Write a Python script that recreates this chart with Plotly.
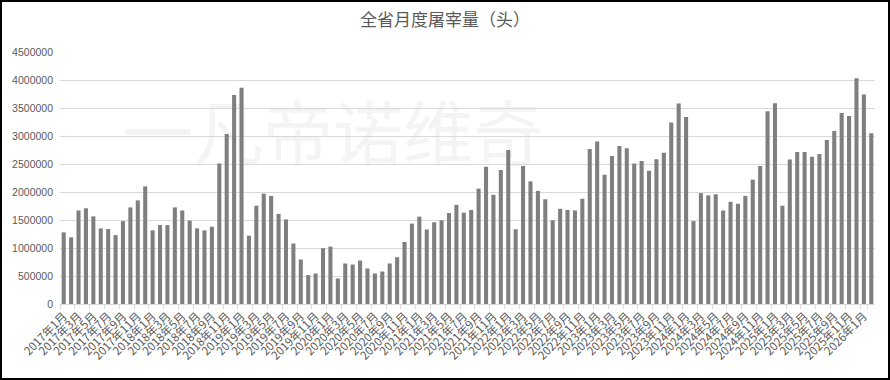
import plotly.graph_objects as go

months = [f"{y}年{m}月" for y in range(2017, 2027) for m in range(1, 13)][:110]

values = [
    1280000, 1190000, 1670000, 1710000, 1565000, 1350000, 1340000, 1230000, 1480000, 1725000, 1850000, 2100000,
    1315000, 1410000, 1410000, 1725000, 1670000, 1490000, 1350000, 1315000, 1380000, 2510000, 3035000, 3730000,
    3860000, 1220000, 1755000, 1970000, 1930000, 1610000, 1510000, 1080000, 795000, 516000, 545000, 996000,
    1025000, 456000, 723000, 705000, 776000, 634000, 545000, 580000, 723000, 836000, 1108000, 1435000,
    1560000, 1330000, 1460000, 1495000, 1625000, 1770000, 1630000, 1680000, 2060000, 2450000, 1950000, 2395000,
    2750000, 1335000, 2465000, 2190000, 2020000, 1870000, 1495000, 1700000, 1680000, 1670000, 1880000, 2770000,
    2900000, 2310000, 2645000, 2820000, 2780000, 2510000, 2555000, 2380000, 2585000, 2700000, 3240000, 3580000,
    3340000, 1480000, 1980000, 1940000, 1960000, 1670000, 1825000, 1790000, 1930000, 2220000, 2465000, 3440000,
    3585000, 1755000, 2580000, 2715000, 2715000, 2630000, 2680000, 2930000, 3090000, 3410000, 3355000, 4030000,
    3740000, 3050000,
]

tick_labels = months[::2]
y_ticks = list(range(0, 4500001, 500000))

title_text = "全省月度屠宰量（头）"
watermark = "一凡帝诺维奇"

W, H = 890, 380
ML, MR, MT, MB = 60, 15, 52, 76
PW, PH = W - ML - MR, H - MT - MB

fig = go.Figure()
fig.add_trace(go.Bar(
    x=months, y=values,
    marker=dict(color="#7f7f7f", line=dict(width=0)),
    hoverinfo="x+y",
))

fig.update_layout(
    width=W, height=H,
    margin=dict(l=ML, r=MR, t=MT, b=MB, pad=0),
    paper_bgcolor="white", plot_bgcolor="white",
    bargap=0.45,
    showlegend=False,
    title=dict(text=title_text, x=0.5, xanchor="center", y=1 - 20 / H, yanchor="middle",
               font=dict(family="Noto Sans CJK SC", size=17, color="#595959")),
    xaxis=dict(
        type="category",
        tickmode="array", tickvals=tick_labels, ticktext=tick_labels,
        tickangle=-45,
        tickfont=dict(family="Noto Sans CJK SC", size=11.5, color="#595959"),
        showgrid=False, showline=True, linecolor="#d9d9d9", linewidth=1,
        ticks="outside", ticklen=4, tickcolor="#d9d9d9", tickson="boundaries",
        range=[-0.5, len(months) - 0.5],
    ),
    yaxis=dict(
        range=[0, 4500000],
        tickvals=y_ticks, ticktext=[str(v) for v in y_ticks],
        tickfont=dict(family="Liberation Sans", size=10.5, color="#595959"),
        showgrid=True, gridcolor="#d9d9d9", gridwidth=1,
        zeroline=False, showline=False, ticks="", ticklabelstandoff=6,
    ),
    shapes=[
        dict(type="rect", xref="paper", yref="paper", x0=0.07, x1=0.6, y0=0.5, y1=0.8,
             line=dict(width=0), fillcolor="rgba(0,0,0,0)", layer="below",
             label=dict(text=watermark, textposition="middle center",
                        font=dict(family="Noto Sans CJK SC", size=70, color="#f4f4f4"))),
        dict(type="rect", xref="paper", yref="paper",
             x0=-(ML - 1) / PW, x1=1 + (MR - 1) / PW,
             y0=-(MB - 1) / PH, y1=1 + (MT - 1) / PH,
             line=dict(width=2, color="black"), fillcolor="rgba(0,0,0,0)", layer="above"),
    ],
)

fig.write_html("out.html")
